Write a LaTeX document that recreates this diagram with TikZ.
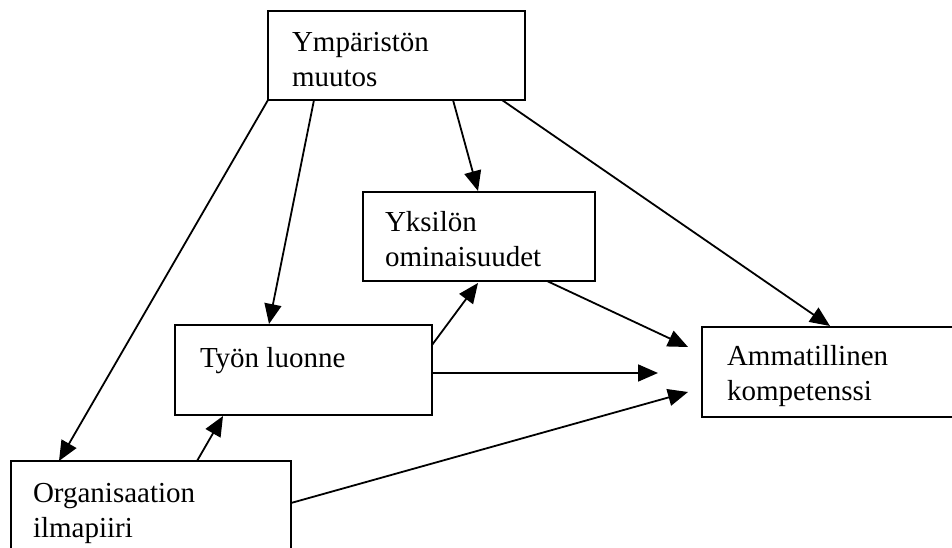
\documentclass[tikz,border=0pt]{standalone}
\usepackage{fontspec}
\setmainfont{Liberation Serif}
\usetikzlibrary{arrows.meta,calc}
\begin{document}
\begin{tikzpicture}[x=1pt,y=-1pt,
  box/.style={draw, line width=2pt, rectangle, inner sep=0pt, outer sep=0pt, anchor=north west},
  lbl/.style={anchor=base west, inner sep=0pt, outer sep=0pt, align=left, font=\fontsize{29}{35}\selectfont},
  arr/.style={line width=1.8pt, -{Triangle[length=20pt,width=17pt]}}]
\clip (0,0) rectangle (952,548);
\fill[white] (0,0) rectangle (952,548);
% boxes
\node[box, minimum width=257pt, minimum height=89pt] (ymp) at (268,11) {};
\node[box, minimum width=232pt, minimum height=89pt] (yks) at (363,192) {};
\node[box, minimum width=257pt, minimum height=90pt] (tyo) at (175,325) {};
\node[box, minimum width=280pt, minimum height=90pt] (amm) at (702,327) {};
\node[box, minimum width=280pt, minimum height=120pt] (org) at (11,461) {};
% labels (base = baseline of last line)
\node[lbl] (lymp) at (292,87) {Ympäristön\\muutos};
\node[lbl] (lyks) at (385,266) {Yksilön\\ominaisuudet};
\node[lbl] (ltyo) at (200,367) {Työn luonne};
\node[lbl] (lamm) at (727,400) {Ammatillinen\\kompetenssi};
\node[lbl] (lorg) at (33,537) {Organisaation\\ilmapiiri};
% arrows
\draw[arr] (ymp.south west) -- ($(org.north west)+(48,0)$);
\draw[arr] ($(ymp.south west)+(46,0)$) -- ($(tyo.north west)+(94,-1)$);
\draw[arr] ($(ymp.south west)+(185,0)$) -- ($(yks.north west)+(115,-1)$);
\draw[arr] ($(ymp.south west)+(234,0)$) -- ($(amm.north west)+(128,-1)$);
\draw[arr] ($(yks.south west)+(184,0)$) -- ($(amm.north west)+(-14,20)$);
\draw[arr] ($(tyo.north east)+(0,20)$) -- ($(yks.south west)+(115,2)$);
\draw[arr] ($(tyo.north east)+(0,48)$) -- ($(amm.north west)+(-44,46)$);
\draw[arr] ($(org.north west)+(186,0)$) -- ($(tyo.south west)+(48,1)$);
\draw[arr] ($(org.north east)+(0,42)$) -- ($(amm.north west)+(-14,65)$);
\end{tikzpicture}
\end{document}
